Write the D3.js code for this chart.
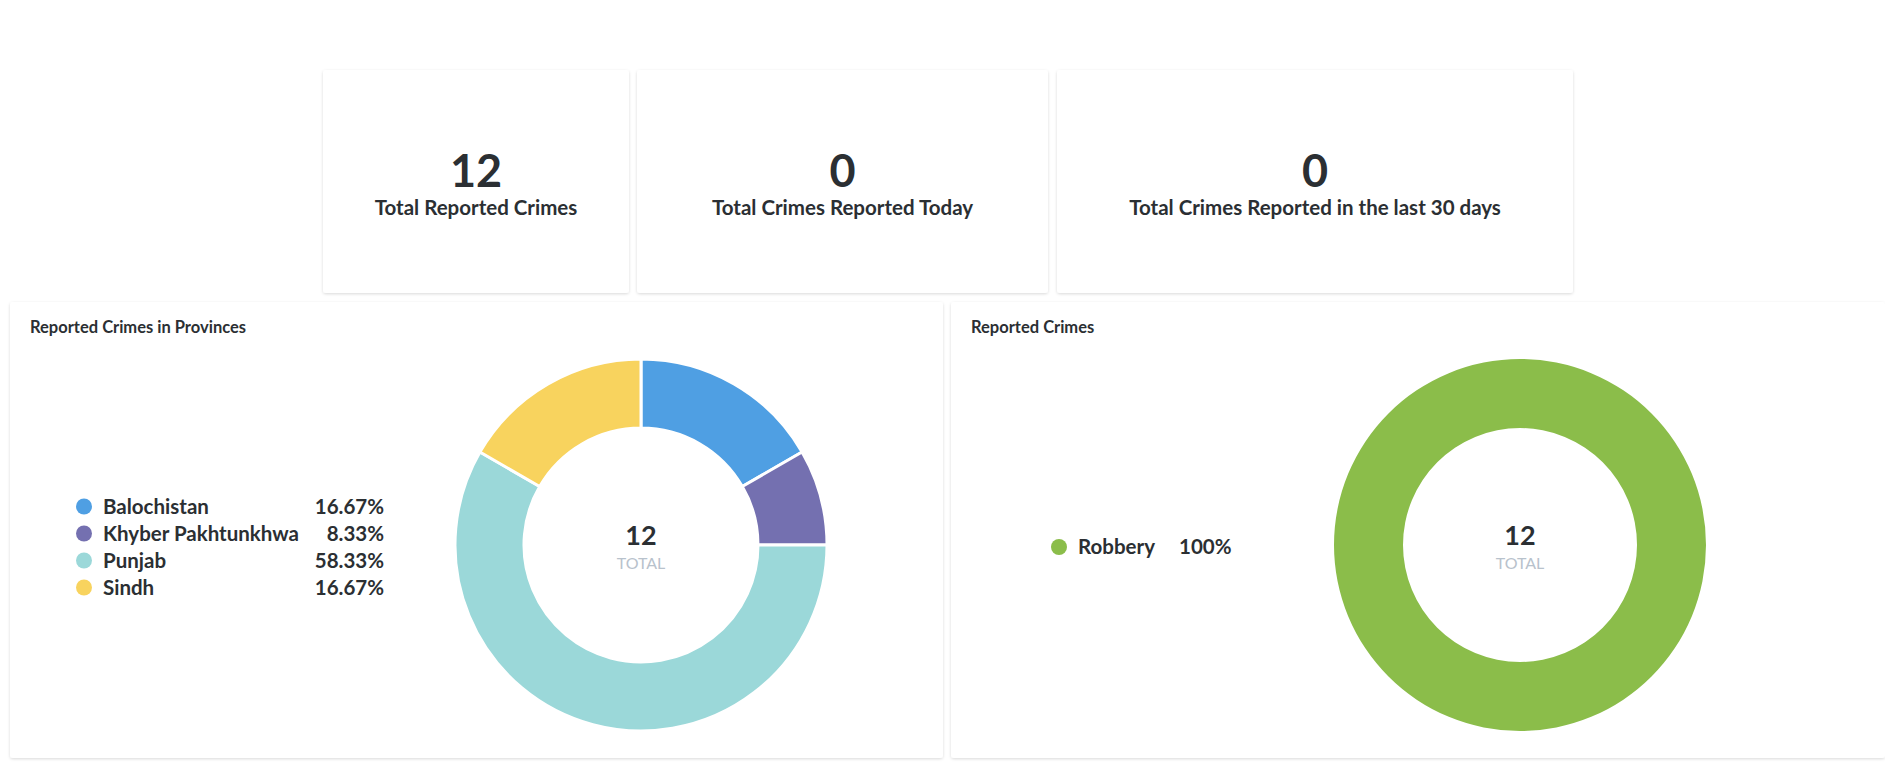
<!DOCTYPE html>
<html><head><meta charset="utf-8">
<script src="https://cdnjs.cloudflare.com/ajax/libs/d3/7.8.5/d3.min.js"></script>
<style>
body{margin:0;background:#fff;font-family:Lato,sans-serif;}
svg{display:block;}
</style></head>
<body>
<svg id="canvas" width="1885" height="762"></svg>
<script>
let stats=[{v:12,label:"Total Reported Crimes",x:323,w:306},{v:0,label:"Total Crimes Reported Today",x:637,w:411},{v:0,label:"Total Crimes Reported in the last 30 days",x:1057,w:516}];
let provinces=[["Balochistan",2,"#4f9fe3"],["Khyber Pakhtunkhwa",1,"#7470b0"],["Punjab",7,"#9bd8d9"],["Sindh",2,"#f8d35e"]];
let crimes=[["Robbery",12,"#8bbd4a"]];

let canvas=d3.select('#canvas');
let defs=canvas.append('defs');
let f=defs.append('filter').attr('id','sh').attr('x','-5%').attr('y','-5%').attr('width','110%').attr('height','110%');
f.append('feDropShadow').attr('dx',0).attr('dy',1).attr('stdDeviation',1.5).attr('flood-color','#000').attr('flood-opacity',0.15);

stats.forEach((s)=>{
  canvas.append('rect').attr('x',s.x).attr('y',70).attr('width',s.w).attr('height',223).attr('rx',3).attr('fill','#fff').attr('filter','url(#sh)');
  canvas.append('text').attr('x',s.x+s.w/2).attr('y',187).attr('text-anchor','middle').style('font-size','45px').style('font-weight','bold').attr('fill','#2b2f33').text(s.v);
  canvas.append('text').attr('x',s.x+s.w/2).attr('y',215).attr('text-anchor','middle').style('font-size','20.5px').style('font-weight','bold').attr('fill','#2b2f33').text(s.label);
});

let panel=(x,w,title,data,cx,legend)=>{
  canvas.append('rect').attr('x',x).attr('y',302).attr('width',w).attr('height',456).attr('rx',3).attr('fill','#fff').attr('filter','url(#sh)');
  canvas.append('text').attr('x',x+20).attr('y',333).style('font-size','16.5px').style('font-weight','bold').attr('fill','#2b2f33').text(title);
  let total=d3.sum(data,(d)=>d[1]);
  let cy=545;
  let pie=d3.pie().sort(null).value((d)=>d[1]);
  let arc=d3.arc().innerRadius(117).outerRadius(186);
  let g=canvas.append('g').attr('transform','translate('+cx+','+cy+')');
  g.selectAll('path').data(pie(data)).enter().append('path').attr('d',arc).attr('fill',(d)=>d.data[2]).attr('stroke',data.length>1?'#fff':'none').attr('stroke-width',3);
  g.append('text').attr('text-anchor','middle').attr('y',0).style('font-size','27px').style('font-weight','bold').attr('fill','#2b2f33').text(total);
  g.append('text').attr('text-anchor','middle').attr('y',24).style('font-size','16px').attr('fill','#b8c2cc').text('TOTAL');
  let y0=legend.y-(data.length-1)*27/2;
  data.forEach((d,i)=>{
    let y=y0+i*27;
    canvas.append('circle').attr('cx',legend.x).attr('cy',y).attr('r',8).attr('fill',d[2]);
    canvas.append('text').attr('x',legend.x+19).attr('y',y+7).style('font-size','20.5px').style('font-weight','bold').attr('fill','#2b2f33').text(d[0]);
    let pct=(Math.round(d[1]/total*10000)/100)+'%';
    canvas.append('text').attr('x',legend.px).attr('y',y+7).attr('text-anchor',legend.anchor).style('font-size','20.5px').style('font-weight','bold').attr('fill','#2b2f33').text(pct);
  });
};
panel(10,933,"Reported Crimes in Provinces",provinces,641,{x:84,y:547,px:384,anchor:'end'});
panel(951,934,"Reported Crimes",crimes,1520,{x:1059,y:547,px:1179,anchor:'start'});
</script>
</body></html>
